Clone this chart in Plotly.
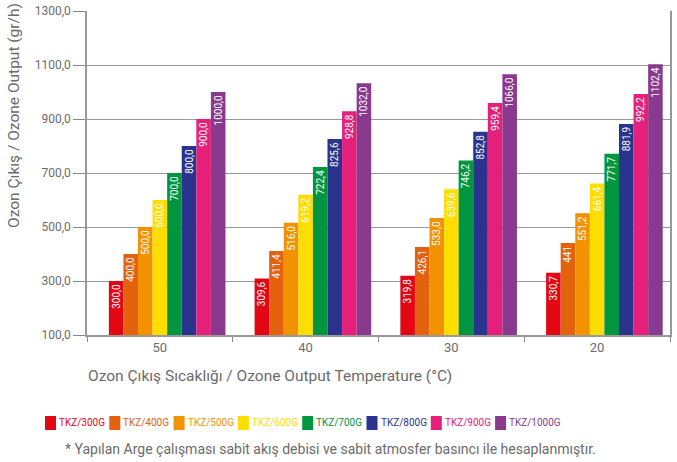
import plotly.graph_objects as go

categories = ["50", "40", "30", "20"]
series_names = ["TKZ/300G", "TKZ/400G", "TKZ/500G", "TKZ/600G",
                "TKZ/700G", "TKZ/800G", "TKZ/900G", "TKZ/1000G"]
tkz300 = [300.0, 309.6, 319.8, 330.7]
tkz400 = [400.0, 411.4, 426.1, 441.0]
tkz500 = [500.0, 516.0, 533.0, 551.2]
tkz600 = [600.0, 619.2, 639.6, 661.4]
tkz700 = [700.0, 722.4, 746.2, 771.7]
tkz800 = [800.0, 825.6, 852.8, 881.9]
tkz900 = [900.0, 928.8, 959.4, 992.2]
tkz1000 = [1000.0, 1032.0, 1066.0, 1102.4]
series_values = [tkz300, tkz400, tkz500, tkz600, tkz700, tkz800, tkz900, tkz1000]
# labels shown without decimals in the source
label_overrides = {(1, 3): "441"}
colors = ["#e30613", "#e2620e", "#f39200", "#ffdd00",
          "#009640", "#2a338e", "#e6207a", "#893a8e"]
y_tickvals = [100, 300, 500, 700, 900, 1100, 1300]

FONT = "Roboto, Liberation Sans, sans-serif"
GRAY = "#6b6b6b"

W, H = 677, 462
ML, MR, MT, MB = 87, 7, 11, 127
PW, PH = W - ML - MR, H - MT - MB


def px(x):
    return (x - ML) / PW


def py(y):
    return (H - MB - y) / PH


def fmt(v):
    return f"{v:.1f}".replace(".", ",")


fig = go.Figure()
# empty leading slot (source chart leaves an empty slot before the first series)
fig.add_trace(go.Bar(x=categories, y=[None] * 4, showlegend=False,
                     hoverinfo="skip", marker_color="rgba(0,0,0,0)"))
for i, (name, vals, col) in enumerate(zip(series_names, series_values, colors)):
    texts = [label_overrides.get((i, j), fmt(v)) for j, v in enumerate(vals)]
    fig.add_trace(go.Bar(
        x=categories, y=vals, name=name, marker_color=col,
        marker_line_width=0,
        text=texts, textposition="inside", textangle=-90,
        insidetextanchor="end",
        insidetextfont=dict(family=FONT, size=10, color="white"),
        showlegend=False,
    ))

shapes = []
annotations = []
# custom legend
for i, (name, col) in enumerate(zip(series_names, colors)):
    x0 = 45 + i * 64.3
    shapes.append(dict(type="rect", xref="paper", yref="paper",
                       x0=px(x0), x1=px(x0 + 11), y0=py(430), y1=py(416),
                       fillcolor=col, line_width=0))
    annotations.append(dict(xref="paper", yref="paper", x=px(x0 + 12), y=py(423),
                            xanchor="left", yanchor="middle", showarrow=False,
                            text=name, font=dict(family=FONT, size=10, color=col)))

annotations.append(dict(xref="paper", yref="paper", x=px(86), y=py(376),
                        xanchor="left", yanchor="middle", showarrow=False,
                        text="Ozon Çıkış Sıcaklığı / Ozone Output Temperature (°C)",
                        font=dict(family=FONT, size=15.5, color=GRAY)))
annotations.append(dict(xref="paper", yref="paper", x=px(14), y=py(116),
                        xanchor="center", yanchor="middle", showarrow=False,
                        textangle=-90,
                        text="Ozon Çıkış / Ozone Output (gr/h)",
                        font=dict(family=FONT, size=15.5, color=GRAY)))
annotations.append(dict(xref="paper", yref="paper", x=px(63), y=py(449),
                        xanchor="left", yanchor="middle", showarrow=False,
                        text="* Yapılan Arge çalışması sabit akış debisi ve sabit atmosfer basıncı ile hesaplanmıştır.",
                        font=dict(family=FONT, size=14, color=GRAY)))

fig.update_layout(
    width=W, height=H,
    margin=dict(l=ML, r=MR, t=MT, b=MB, autoexpand=False),
    paper_bgcolor="white", plot_bgcolor="white",
    barmode="group", bargap=0.1, bargroupgap=0,
    separators=",.",
    font=dict(family=FONT, color=GRAY),
    shapes=shapes, annotations=annotations,
    showlegend=False,
    uniformtext=dict(minsize=10, mode="show"),
)
fig.update_xaxes(
    type="category", tickson="boundaries", ticks="outside", ticklen=5,
    tickcolor="#888", showline=True, linecolor="#999", linewidth=1.5,
    tickfont=dict(family=FONT, size=13, color=GRAY), showgrid=False,
    automargin=False,
)
fig.update_yaxes(
    range=[100, 1300], tickvals=y_tickvals, tickformat=".1f",
    ticks="outside", ticklen=12, tickcolor="#888",
    showline=True, linecolor="#999", linewidth=1.5, mirror=True,
    showgrid=True, gridcolor="#999", gridwidth=1.2,
    tickfont=dict(family=FONT, size=12, color=GRAY), zeroline=False,
    automargin=False,
)

fig.write_html("out.html", config={"displayModeBar": False},
               post_script="document.body.style.margin='0px';document.body.style.overflow='hidden';")
